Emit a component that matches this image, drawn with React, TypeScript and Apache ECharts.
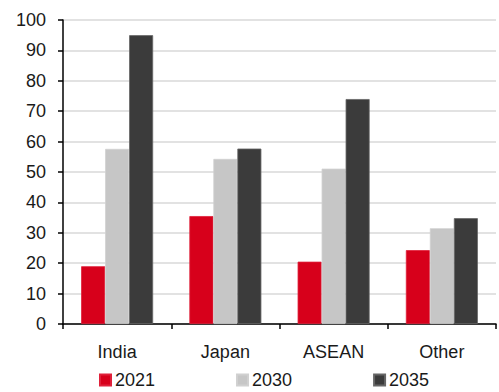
import React, { useEffect, useRef } from "react";
import * as echarts from "echarts";

const categories = ["India", "Japan", "ASEAN", "Other"];
const series2021 = [19, 35.5, 20.5, 24.3];
const series2030 = [57.6, 54.3, 51.1, 31.5];
const series2035 = [95, 57.7, 74, 34.8];
const yTicks = { min: 0, max: 100, interval: 10 };

const FONT = "'Liberation Sans', Arial, sans-serif";
const FONT_SIZE = 18;

export default function App() {
  const ref = useRef<HTMLDivElement>(null);

  useEffect(() => {
    if (!ref.current) return;
    const chart = echarts.init(ref.current, null, { renderer: "svg" });
    const bar = (name: string, data: number[], color: string, border: string) => ({
      name,
      type: "bar",
      data,
      barWidth: 24,
      barGap: "0%",
      itemStyle: { color, borderColor: border, borderWidth: 0.8 },
    });
    chart.setOption({
      animation: false,
      textStyle: { fontFamily: FONT },
      grid: { left: 63, right: 3, top: 20, bottom: 68, containLabel: false },
      legend: {
        left: 99,
        top: 371,
        padding: 0,
        itemWidth: 11,
        itemHeight: 11,
        itemGap: 81,
        icon: "rect",
        textStyle: { fontFamily: FONT, fontSize: FONT_SIZE, color: "#1a1a1a", padding: [0, 0, 0, -1] },
        data: ["2021", "2030", "2035"],
      },
      xAxis: {
        type: "category",
        data: categories,
        axisLine: { show: true, lineStyle: { color: "#000", width: 1.5 } },
        axisTick: { show: true, length: 5, alignWithLabel: false, lineStyle: { color: "#000", width: 1.5 } },
        axisLabel: { fontFamily: FONT, fontSize: FONT_SIZE, color: "#1a1a1a", margin: 19 },
        splitLine: { show: false },
      },
      yAxis: {
        type: "value",
        min: yTicks.min,
        max: yTicks.max,
        interval: yTicks.interval,
        axisLine: { show: true, lineStyle: { color: "#000", width: 1.5 } },
        axisTick: { show: true, length: 5, lineStyle: { color: "#000", width: 1.5 } },
        axisLabel: { fontFamily: FONT, fontSize: FONT_SIZE, color: "#1a1a1a", margin: 17 },
        splitLine: { show: true, lineStyle: { color: "#d9d9d9", width: 1.5 } },
      },
      series: [
        bar("2021", series2021, "#d7001b", "#e0203a"),
        bar("2030", series2030, "#c6c6c6", "#d0d0d0"),
        bar("2035", series2035, "#3b3b3b", "#666666"),
      ],
    });
    return () => chart.dispose();
  }, []);

  return (
    <div
      ref={ref}
      style={{ position: "fixed", left: 0, top: 0, width: 499, height: 392, background: "#fff" }}
    />
  );
}
